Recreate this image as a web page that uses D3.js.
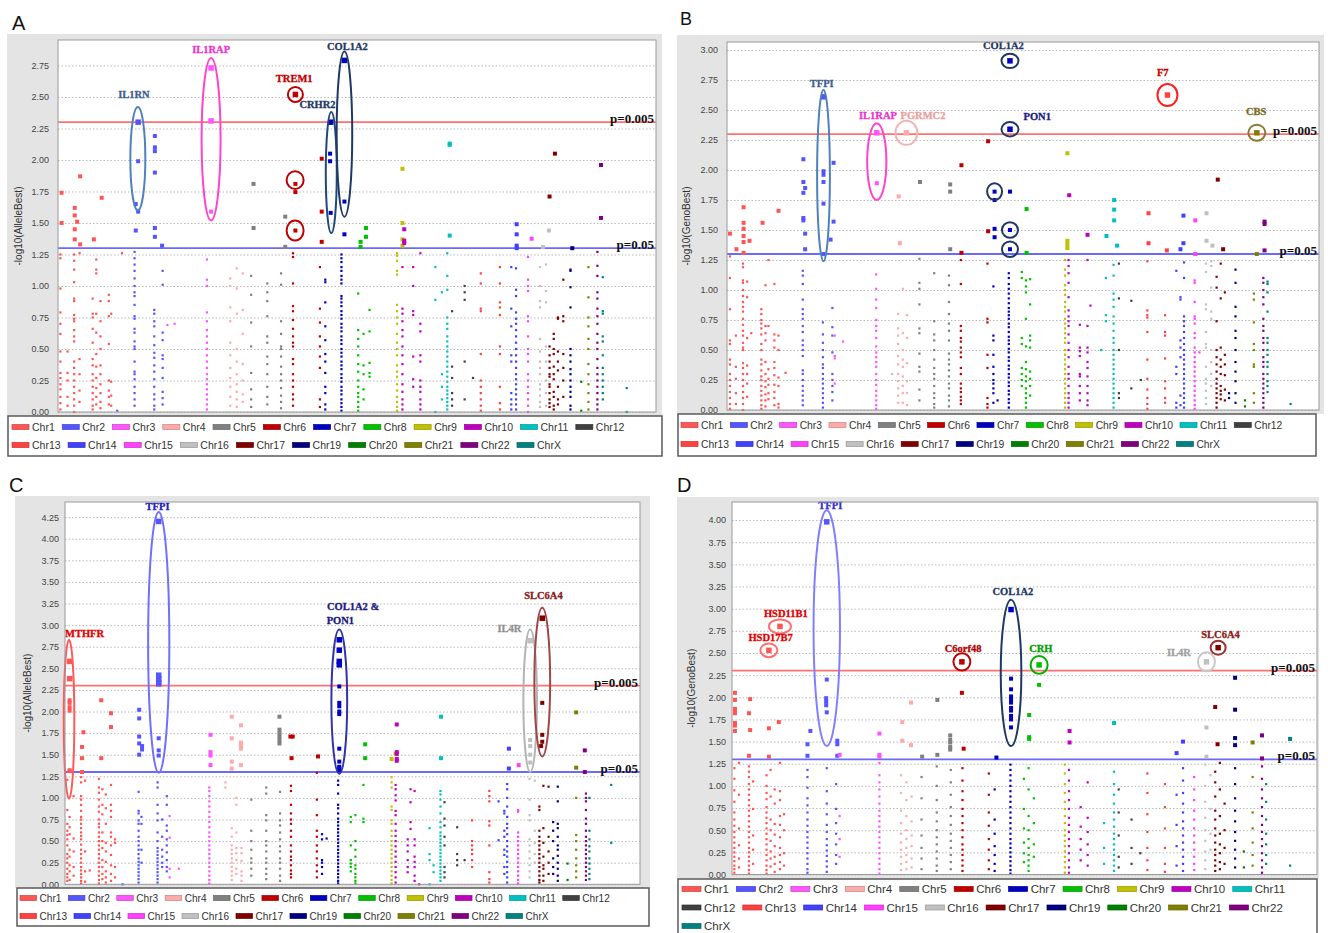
<!DOCTYPE html>
<html>
<head>
<meta charset="utf-8">
<script src="https://cdn.jsdelivr.net/npm/d3@7"></script>
<style>
  body { margin: 0; background: #fff; }
  svg { display: block; font-family: Arial, "Liberation Sans", sans-serif; }
</style>
</head>
<body>
<svg id="fig" width="1328" height="933"></svg>
<script>
// chromosomes shown in the legend (no Chr18), 23 = X
const chromosomes = [1,2,3,4,5,6,7,8,9,10,11,12,13,14,15,16,17,19,20,21,22,23];
const chrNames = chromosomes.map(c => c === 23 ? "ChrX" : "Chr" + c);
const chrColors = ["#ff5555","#5555ff","#ff55ff","#ffaaaa","#808080","#c00000","#0000c0","#00c000",
  "#c0c000","#c000c0","#00c0c0","#404040","#ff4040","#4040ff","#ff40ff","#c0c0c0","#800000",
  "#000080","#008000","#808000","#800080","#008080"];

// [chromosome, genome position (0-100), -log10 p values] for SNPs below p=0.05
const colsA = [
[1,0.4,[1.25,1.22,0.98,0.79,0.70,0.62,0.48,0.40,0.31,0.27,0.22,0.18,0.12,0.07,0.02]],
[1,1.6,[0.48,0.31,0.25,0.12,0.05]],
[1,2.7,[1.25,1.20,1.13,1.03,0.90,0.88,0.77,0.74,0.72,0.65,0.60,0.56,0.40,0.35,0.30,0.25,0.20,0.15,0.10,0.05,0.00]],
[1,3.6,[1.26,0.42,0.30,0.17,0.08]],
[1,5.8,[0.90,0.78,0.75,0.66,0.55,0.42,0.37,0.30,0.25,0.20,0.15,0.10,0.05,0.02]],
[1,6.4,[1.21,1.13,1.10,0.78,0.63,0.46,0.36,0.27,0.19,0.12,0.06]],
[1,7.1,[0.88,0.72,0.60,0.50,0.37,0.30,0.22,0.15,0.08,0.03]],
[1,8.5,[0.93,0.88,0.76,0.54,0.25,0.17,0.12,0.06]],
[1,8.9,[0.78,0.24,0.13,0.05]],
[2,9.9,[0.01]],
[1,10.7,[1.26]],
[2,12.8,[1.27,1.22,1.17,1.12,1.06,1.00,0.95,0.92,0.85,0.76,0.74,0.66,0.63,0.56,0.52,0.50,0.40,0.32,0.30,0.26,0.20,0.15,0.10,0.05]],
[2,16.1,[0.81,0.78,0.72,0.68,0.60,0.53,0.47,0.43,0.37,0.32,0.26,0.20,0.14,0.10,0.05,0.02]],
[2,17.5,[1.12,1.01,0.63,0.57,0.45,0.42,0.35,0.27,0.16,0.11,0.06]],
[3,18.3,[0.69]],
[3,19.5,[0.70]],
[3,24.9,[1.21,1.05,1.00,0.79,0.72,0.65,0.60,0.55,0.50,0.45,0.40,0.35,0.30,0.26,0.22,0.18,0.14,0.10,0.06,0.02]],
[4,28.8,[1.06,1.00,0.83,0.72,0.55,0.45,0.35,0.27,0.20,0.12,0.05]],
[4,29.9,[1.14,0.98,0.78,0.50,0.40,0.30,0.22,0.16,0.10,0.04]],
[4,30.9,[1.10,0.81,0.62,0.38,0.25,0.14,0.08]],
[5,32.3,[1.08,0.93,0.71,0.52,0.31,0.18,0.10,0.04]],
[5,35.0,[1.02,0.95,0.88,0.76,0.60,0.55,0.44,0.38,0.30,0.20,0.12,0.06]],
[5,37.3,[1.10,1.01,0.72,0.62,0.52,0.50,0.44,0.36,0.30,0.25,0.19,0.13,0.08,0.03]],
[6,39.3,[1.26,1.23,1.02,0.84,0.80,0.73,0.66,0.60,0.55,0.52,0.42,0.38,0.30,0.25,0.20,0.14,0.10,0.05]],
[6,43.8,[1.15,0.82,0.71,0.60,0.52,0.44,0.35,0.10,0.04]],
[7,44.7,[1.05,1.03,0.87,0.68,0.57,0.46,0.40,0.31,0.20,0.15,0.06,0.02]],
[7,47.4,[1.25,1.22,1.19,1.15,1.12,1.08,1.05,1.02,0.92,0.90,0.87,0.84,0.80,0.77,0.74,0.70,0.67,0.64,0.60,0.57,0.54,0.50,0.47,0.44,0.40,0.37,0.34,0.30,0.27,0.24,0.20,0.17,0.14,0.10,0.07,0.04,0.01]],
[8,50.2,[0.94,0.65,0.58,0.52,0.45,0.38,0.32,0.25,0.20,0.15,0.12,0.08,0.04,0.01]],
[8,51.1,[0.62,0.37,0.30,0.18,0.10]],
[8,52.1,[0.81,0.64,0.39,0.31,0.28]],
[9,56.7,[1.26,1.24,1.20,1.12,1.09,0.85,0.80,0.75,0.70,0.62,0.55,0.50,0.45,0.37,0.32,0.28,0.22,0.17,0.12,0.08,0.04,0.01]],
[10,57.6,[1.15,0.82,0.78,0.72,0.65,0.60,0.52,0.45,0.38,0.30,0.22,0.16,0.10,0.06,0.02]],
[10,59.4,[1.15,1.00,0.80,0.77,0.44,0.26,0.20]],
[10,60.6,[1.26,0.70,0.64,0.45,0.40,0.25,0.20,0.16,0.10,0.06,0.02]],
[11,63.1,[1.15,0.89,0.00]],
[11,64.2,[0.95,0.30,0.20,0.10]],
[11,65.1,[1.26,1.08,0.97,0.75,0.70,0.66,0.60,0.56,0.52,0.48,0.44,0.40,0.36,0.32,0.28,0.24,0.20,0.17,0.14,0.11,0.08,0.05,0.02]],
[12,65.9,[0.80,0.36,0.27,0.15,0.10,0.05]],
[12,68.0,[1.00,0.95,0.89,0.40,0.10]],
[12,69.4,[0.27]],
[13,70.7,[1.10,1.02,0.82,0.80,0.46,0.25,0.20,0.15,0.10,0.05,0.01]],
[13,73.9,[1.15,1.02,0.87,0.83,0.77,0.52,0.46,0.20,0.07,0.02]],
[14,75.8,[1.15,0.82,0.68,0.45,0.40,0.15,0.10,0.06,0.02]],
[14,76.6,[1.14,0.97,0.92,0.79,0.74,0.70,0.65,0.60,0.55,0.50,0.45,0.40,0.35,0.30,0.26,0.22,0.18,0.14,0.10,0.06,0.02]],
[15,78.6,[1.23,1.05,1.00,0.96,0.76,0.72,0.60,0.50,0.46,0.40,0.30,0.25,0.20,0.15,0.10,0.05,0.00]],
[16,80.6,[1.15,1.00,0.88,0.83,0.58,0.48,0.40,0.35,0.30,0.22,0.18,0.13,0.08,0.04]],
[16,81.6,[1.17,0.96,0.87,0.52,0.40,0.25,0.15,0.05]],
[17,82.2,[0.52,0.45,0.40,0.35,0.30,0.28,0.22,0.20,0.15,0.10,0.07,0.04]],
[17,82.9,[0.62,0.58,0.50,0.46,0.36,0.30,0.26,0.16,0.12,0.05,0.02]],
[17,83.6,[0.75,0.74,0.48,0.40,0.33,0.20,0.10,0.06]],
[17,84.5,[1.05,0.76,0.72,0.46,0.35,0.25,0.12]],
[19,85.7,[1.13,1.12,0.99,0.83,0.50,0.45,0.40,0.34,0.30,0.25,0.20,0.16,0.12,0.05,0.02]],
[20,87.5,[0.24,0.01]],
[21,88.7,[1.15,0.91,0.75,0.68,0.58,0.50,0.38,0.30,0.22,0.15,0.08,0.02]],
[22,90.2,[1.27,1.16,1.08,0.95,0.90,0.82,0.76,0.70,0.62,0.55,0.50,0.42,0.35,0.30,0.25,0.20,0.15,0.10,0.06,0.02]],
[23,91.1,[1.07,0.80,0.78,0.60,0.56,0.45,0.35,0.30,0.25,0.20,0.15,0.10]],
[23,95.1,[0.19,0.00]]
];

// [chromosome, position, -log10 p] for SNPs with p <= 0.05
const hitsA = [
[1,0.6,1.74],[1,0.6,1.50],[1,2.8,1.62],[1,2.8,1.56],[1,3.2,1.51],[1,2.8,1.45],[1,2.8,1.37],[1,3.7,1.33],[1,3.7,1.87],
[1,6.0,1.37],[1,7.3,1.70],
[2,13.4,2.30],[2,13.4,1.99],[2,13.0,1.65],[2,13.4,1.59],[2,13.0,1.44],
[2,16.2,2.19],[2,16.2,2.10],[2,16.2,2.07],[2,16.2,1.90],[2,16.2,1.46],[2,16.2,1.39],[2,17.4,1.32],
[3,25.6,2.73],[3,25.6,2.31],[3,25.6,1.59],
[5,32.7,1.81],[5,32.7,1.46],[5,38.0,1.55],[5,38.0,1.31],
[6,39.7,2.52],[6,39.7,1.81],[6,39.7,1.745],[6,39.7,1.44],
[6,44.1,2.01],[6,44.1,1.59],[6,44.1,1.35],
[7,45.6,2.30],[7,45.5,2.05],[7,45.5,1.99],[7,45.6,1.58],
[7,47.9,2.79],[7,47.9,1.67],[7,47.9,1.41],
[8,50.6,1.35],[8,50.6,1.31],[8,51.5,1.46],[8,51.5,1.39],
[9,57.6,1.93],[9,57.6,1.50],[9,57.6,1.37],[9,57.6,1.32],
[10,57.9,1.45],[10,57.9,1.36],[10,57.9,1.34],
[11,65.5,2.13],[11,65.5,2.12],[11,65.5,1.40],
[14,76.7,1.49],[14,76.7,1.41],[14,76.7,1.32],[14,76.7,1.30],
[15,79.2,1.375],[16,82.1,1.44],[16,81.1,1.31],
[17,83.1,2.05],[17,82.2,1.71],[19,86.0,1.30],
[22,90.8,1.96],[22,90.8,1.54]
];

const colsB = [
[1,0.5,[1.28,1.10,0.84,0.58,0.55,0.42,0.38,0.30,0.25,0.20,0.15,0.10,0.05,0.01]],
[1,1.5,[0.62,0.36,0.26,0.14,0.05]],
[1,2.7,[1.22,1.19,1.08,1.06,1.00,0.95,0.90,0.86,0.82,0.76,0.71,0.66,0.62,0.56,0.52,0.50,0.39,0.35,0.30,0.25,0.20,0.15,0.10,0.05,0.00]],
[1,3.4,[1.07,0.94,0.60,0.37,0.30,0.22,0.11]],
[1,4.1,[0.64]],
[1,5.8,[0.84,0.80,0.75,0.72,0.68,0.63,0.55,0.50,0.42,0.38,0.33,0.28,0.25,0.20,0.16,0.12,0.08,0.04,0.01]],
[1,6.5,[1.04,0.70,0.64,0.58,0.40,0.30,0.24,0.19,0.13,0.08,0.03]],
[1,7.0,[1.25,0.70,0.34,0.26,0.21,0.14,0.09]],
[1,8.0,[1.05,0.63,0.58,0.52,0.40,0.35,0.29,0.21,0.15,0.10,0.04]],
[1,8.7,[0.62,0.50,0.27,0.20,0.05,0.02]],
[1,9.9,[0.31]],
[2,12.8,[1.16,1.12,1.05,0.92,0.84,0.80,0.76,0.70,0.65,0.58,0.54,0.50,0.45,0.33,0.30,0.25,0.20,0.16,0.12,0.08,0.04]],
[2,16.2,[0.73,0.63,0.56,0.50,0.44,0.38,0.35,0.30,0.26,0.22,0.18,0.14,0.10,0.06,0.02]],
[2,17.8,[0.85,0.69,0.62,0.48,0.30,0.25,0.20,0.15,0.08]],
[3,18.2,[0.62,0.45,0.43,0.22]],
[3,19.6,[0.57]],
[3,25.2,[1.13,1.01,0.92,0.85,0.75,0.70,0.66,0.60,0.53,0.48,0.44,0.40,0.36,0.30,0.25,0.21,0.16,0.12,0.08,0.04,0.01]],
[4,27.9,[0.30]],
[4,28.9,[0.80,0.68,0.62,0.55,0.45,0.38,0.30,0.24,0.18,0.12,0.06]],
[4,29.7,[1.01,0.64,0.50,0.42,0.36,0.28,0.20,0.14,0.06]],
[4,30.4,[0.79,0.60,0.39,0.24,0.14,0.04]],
[5,32.5,[1.26,1.06,1.01,0.88,0.68,0.64,0.47,0.36,0.32,0.17,0.08]],
[5,35.0,[1.14,0.74,0.63,0.58,0.50,0.42,0.35,0.30,0.26,0.20,0.14,0.10,0.05,0.02]],
[5,37.5,[1.12,1.04,0.90,0.80,0.72,0.66,0.58,0.47,0.42,0.38,0.33,0.28,0.22,0.18,0.12,0.08,0.03]],
[6,39.5,[1.25,1.05,0.70,0.66,0.60,0.57,0.52,0.48,0.44,0.35,0.30,0.22,0.18,0.15,0.11,0.08,0.05]],
[6,44.0,[1.22,0.76,0.73,0.46,0.35,0.10,0.05,0.02]],
[7,45.0,[1.03,0.62,0.58,0.46,0.36,0.30,0.25,0.22,0.18,0.14,0.06]],
[7,45.7,[0.08]],
[7,47.6,[1.14,1.10,1.05,1.01,0.97,0.93,0.89,0.85,0.82,0.79,0.76,0.72,0.69,0.65,0.61,0.58,0.55,0.51,0.48,0.44,0.41,0.37,0.34,0.30,0.27,0.23,0.20,0.16,0.13,0.09,0.06,0.02]],
[8,49.8,[1.15,1.10,0.60,0.55,0.35,0.30,0.25,0.20]],
[8,50.5,[1.08,1.03,0.98,0.76,0.53,0.40,0.34,0.28,0.24,0.18,0.14,0.10,0.06,0.02]],
[8,51.2,[1.09,0.88,0.62,0.58,0.52,0.32,0.26,0.20,0.12]],
[9,57.1,[1.25,1.17,1.12,1.04,1.00,0.96,0.90,0.86,0.82,0.76,0.72,0.68,0.64,0.60,0.56,0.50,0.46,0.42,0.38,0.34,0.30,0.26,0.22,0.18,0.14,0.10,0.06,0.02]],
[10,57.7,[1.25,1.20,1.14,1.06,0.94,0.83,0.78,0.74,0.70,0.63,0.56,0.50,0.44,0.36,0.30,0.26,0.20,0.14,0.10,0.06,0.02]],
[10,59.6,[0.71,0.52,0.49,0.45,0.30,0.28,0.20,0.14,0.08]],
[10,60.9,[1.25,0.70,0.52,0.48,0.40,0.35,0.28,0.20,0.14,0.08,0.04]],
[10,61.4,[0.87]],
[11,63.2,[0.50]],
[11,64.0,[1.10,0.79,0.74]],
[11,65.3,[1.21,1.12,0.97,0.92,0.86,0.78,0.72,0.66,0.60,0.56,0.50,0.46,0.42,0.38,0.34,0.30,0.26,0.22,0.18,0.14,0.10,0.06,0.02]],
[12,66.2,[1.22,0.93,0.50,0.14,0.10]],
[12,68.3,[0.91,0.18]],
[12,69.9,[0.25]],
[13,71.0,[1.24,0.83,0.79,0.77,0.65,0.42,0.26,0.17,0.10,0.05,0.01]],
[13,74.0,[0.79,0.65,0.62,0.43,0.24,0.18,0.10,0.06]],
[14,75.9,[1.16,0.36,0.30,0.06,0.02]],
[14,76.6,[0.94,0.92,0.58,0.52,0.44,0.12,0.04]],
[14,77.2,[1.23,1.10,0.78,0.74,0.70,0.65,0.60,0.55,0.50,0.46,0.42,0.38,0.34,0.30,0.26,0.22,0.18,0.14,0.10,0.06,0.02]],
[15,79.0,[1.08,1.06,0.90,0.78,0.76,0.72,0.64,0.60,0.52,0.48,0.44,0.40,0.36,0.32,0.28,0.24,0.20,0.16,0.12,0.08,0.04,0.01]],
[15,79.8,[0.48]],
[16,80.9,[1.22,1.15,0.88,0.84,0.65,0.55,0.52,0.36,0.26,0.22,0.16,0.10,0.05]],
[16,81.8,[1.24,1.20,1.02,0.82,0.76,0.50,0.40,0.30,0.20]],
[17,82.7,[1.11,1.02,0.74,0.50,0.44,0.38,0.32,0.26,0.22,0.18,0.14,0.10,0.06,0.02]],
[17,83.4,[1.22,0.93,0.52,0.42,0.36,0.30,0.20,0.16,0.13,0.09]],
[17,84.1,[0.98,0.46,0.38,0.29,0.17,0.08]],
[19,84.8,[0.14,0.10]],
[19,85.9,[1.17,1.06,0.86,0.78,0.66,0.60,0.50,0.40,0.32,0.24,0.14,0.06]],
[20,87.5,[0.08,0.03]],
[21,89.0,[0.97,0.92,0.73,0.55,0.50,0.38,0.36,0.14,0.06]],
[22,90.6,[1.10,1.06,1.00,0.94,0.88,0.76,0.70,0.66,0.60,0.56,0.50,0.44,0.40,0.36,0.30,0.26,0.22,0.18,0.14,0.10,0.06,0.02]],
[23,91.3,[1.07,1.05,0.98,0.82,0.60,0.56,0.50,0.46,0.40,0.36,0.30,0.24,0.20,0.15]],
[23,95.2,[0.05]]
];

const hitsB = [
[1,0.5,1.47],[1,1.6,1.34],[1,2.8,1.69],[1,2.8,1.56],[1,2.8,1.51],[1,2.8,1.45],[1,2.8,1.40],[1,2.8,1.31],[1,3.8,1.41],
[1,6.0,1.56],[1,8.7,1.66],
[2,12.9,2.09],[2,12.9,1.90],[2,13.2,1.85],[2,12.9,1.81],[2,12.9,1.60],[2,12.9,1.58],[2,13.2,1.47],[2,13.2,1.34],
[2,16.3,2.61],[2,16.3,1.99],[2,16.3,1.96],[2,16.3,1.90],[2,16.3,1.72],[2,16.3,1.30],
[2,18.0,2.06],[2,18.0,1.57],[2,17.5,1.42],
[3,25.3,2.31],[3,25.3,1.89],
[4,30.3,2.31],[4,29.0,1.78],[4,29.2,1.39],
[5,32.6,1.90],[5,37.7,1.88],[5,37.7,1.82],[5,37.7,1.34],
[6,39.6,2.04],[6,39.6,1.31],[6,44.1,2.24],[6,44.1,1.49],
[7,45.2,1.82],[7,45.2,1.75],[7,45.2,1.51],[7,45.2,1.44],
[7,47.8,2.91],[7,47.8,2.34],[7,47.8,1.82],[7,47.8,1.50],[7,47.8,1.34],
[8,50.6,1.675],[8,50.6,1.31],
[9,57.5,2.14],[9,57.5,1.41],[9,57.5,1.38],[9,57.5,1.35],
[10,57.8,1.79],[10,60.9,1.46],
[11,64.1,1.45],[11,65.4,1.75],[11,65.4,1.67],[11,65.4,1.58],[11,65.9,1.37],
[13,71.2,1.64],[13,71.2,1.39],[13,74.3,1.33],[13,74.4,2.625],
[14,76.6,1.34],[14,77.1,1.39],[14,77.1,1.62],
[15,79.1,1.58],[15,79.1,1.30],
[16,81.0,1.64],[16,81.0,1.41],[16,82.0,1.37],
[17,82.9,1.92],[17,83.8,1.34],
[21,89.5,2.31],[21,89.5,1.30],
[22,90.8,1.57],[22,90.8,1.55],[22,90.8,1.33]
];

const colsC = [
[1,0.4,[1.21,0.86,0.70,0.62,0.57,0.52,0.45,0.35,0.30,0.25,0.18,0.12,0.08,0.04]],
[1,0.8,[0.78,0.66,0.58,0.40,0.32,0.22,0.15,0.05]],
[1,1.5,[1.02,0.53,0.38,0.20,0.10]],
[1,2.8,[1.24,1.18,1.02,0.98,0.92,0.85,0.78,0.75,0.70,0.65,0.60,0.56,0.52,0.46,0.40,0.35,0.30,0.25,0.20,0.16,0.12,0.08,0.04,0.01]],
[1,3.5,[1.20,0.38,0.15,0.03]],
[1,4.3,[0.16]],
[1,5.9,[1.22,1.12,1.06,0.98,0.90,0.84,0.75,0.70,0.66,0.60,0.55,0.50,0.45,0.40,0.35,0.30,0.25,0.20,0.15,0.10,0.05,0.01]],
[1,6.5,[1.10,0.92,0.81,0.60,0.50,0.42,0.28,0.20,0.12,0.06]],
[1,7.1,[1.04,0.88,0.70,0.48,0.38,0.26,0.15,0.08,0.02]],
[1,8.0,[1.15,0.92,0.85,0.78,0.60,0.55,0.45,0.34,0.22,0.12,0.04]],
[1,8.7,[0.52,0.48,0.20,0.08]],
[2,10.0,[0.00]],
[2,12.8,[1.07,0.85,0.82,0.74,0.70,0.62,0.55,0.50,0.45,0.40,0.35,0.30,0.26,0.22,0.18,0.14,0.10,0.06,0.02]],
[2,13.3,[0.78,0.70,0.40,0.25]],
[2,16.1,[1.18,1.12,0.92,0.82,0.74,0.60,0.50,0.42,0.38,0.34,0.30,0.26,0.22,0.18,0.14,0.10,0.06,0.02]],
[2,16.9,[0.75,0.55,0.40,0.32,0.25,0.20]],
[2,17.7,[1.02,0.92,0.68,0.62,0.52,0.45,0.37,0.28,0.20,0.15]],
[3,18.2,[0.79,0.54,0.18,0.08]],
[3,19.8,[0.18]],
[3,25.1,[1.12,1.08,1.02,0.96,0.90,0.84,0.78,0.72,0.66,0.60,0.55,0.50,0.45,0.40,0.35,0.30,0.25,0.20,0.15,0.10,0.05,0.01]],
[4,27.9,[1.18,1.12]],
[4,29.0,[0.65,0.55,0.45,0.40,0.35,0.30,0.25,0.20,0.15,0.10,0.05]],
[4,29.8,[1.00,0.92,0.60,0.42,0.36,0.28,0.18,0.12]],
[4,30.7,[0.42,0.36,0.27,0.15,0.10,0.04]],
[5,32.4,[0.98,0.62,0.50,0.40,0.30,0.25,0.18,0.10]],
[5,35.0,[1.12,1.05,0.80,0.74,0.62,0.50,0.45,0.38,0.30,0.25,0.18,0.12,0.06]],
[5,37.4,[1.07,0.82,0.74,0.68,0.60,0.52,0.44,0.38,0.30,0.25,0.18,0.10,0.04]],
[6,39.3,[1.14,1.08,0.92,0.82,0.75,0.70,0.62,0.55,0.45,0.38,0.32,0.28,0.22,0.16,0.12,0.08]],
[6,43.8,[1.29,0.98,0.80,0.62,0.55,0.45,0.38,0.30,0.22,0.15,0.08]],
[7,44.7,[0.58,0.52,0.28,0.25,0.20,0.12]],
[7,45.5,[0.53]],
[7,47.5,[1.20,1.15,1.05,0.92,0.88,0.82,0.76,0.72,0.68,0.64,0.60,0.56,0.52,0.48,0.44,0.40,0.36,0.32,0.28,0.24,0.20,0.16,0.12,0.08,0.04,0.01]],
[8,49.7,[0.78,0.72,0.45,0.28,0.24,0.20,0.15]],
[8,50.5,[0.80,0.50,0.40,0.32,0.22,0.18,0.12,0.08,0.04,0.01]],
[8,51.9,[1.15,0.76,0.72]],
[9,56.8,[1.24,1.18,1.12,0.90,0.86,0.74,0.70,0.62,0.56,0.50,0.45,0.40,0.35,0.30,0.25,0.20,0.15,0.10,0.05,0.01]],
[10,57.5,[1.15,1.10,1.03,0.97,0.85,0.80,0.70,0.62,0.56,0.50,0.44,0.38,0.32,0.26,0.20,0.14,0.08,0.02]],
[10,59.6,[0.52,0.45,0.38,0.28,0.20,0.14]],
[10,60.1,[1.10,0.95,0.72,0.64]],
[10,60.8,[1.08,0.52,0.45,0.32,0.26,0.20,0.10,0.04]],
[10,61.6,[0.00]],
[11,63.4,[0.65,0.35,0.28,0.00]],
[11,64.1,[0.22,0.14]],
[11,65.3,[1.08,1.04,0.98,0.90,0.82,0.72,0.66,0.60,0.56,0.52,0.48,0.44,0.40,0.36,0.32,0.28,0.24,0.20,0.16,0.12,0.08,0.04]],
[12,66.0,[0.95,0.76,0.68,0.55,0.45,0.20,0.14,0.08]],
[12,68.2,[0.66,0.35,0.28,0.22]],
[12,69.5,[0.28]],
[13,70.8,[0.74,0.50,0.45,0.40,0.35,0.28,0.20]],
[13,73.8,[1.08,1.02,0.96,0.73,0.68,0.45,0.14,0.06,0.02]],
[14,75.4,[0.96,0.51]],
[14,76.4,[0.85,0.82,0.62,0.55,0.40,0.34,0.20,0.12]],
[14,76.9,[1.16,1.10,1.00,0.90,0.78,0.70,0.65,0.58,0.50,0.44,0.38,0.32,0.26,0.20,0.14,0.08,0.02]],
[15,78.8,[0.86,0.84,0.60,0.55,0.50,0.45,0.40,0.35,0.30,0.25,0.20,0.15,0.10,0.05,0.01]],
[16,80.8,[1.22,0.98,0.80,0.74,0.52,0.45,0.38,0.30,0.22,0.15,0.08]],
[16,81.7,[1.20,0.62,0.48,0.35,0.25]],
[17,82.5,[0.90,0.86,0.62,0.55,0.50,0.45,0.40,0.35,0.30,0.25,0.20,0.15,0.10,0.05,0.02]],
[17,83.2,[1.14,0.65,0.48,0.32,0.22,0.18,0.10,0.04]],
[17,84.1,[1.13,0.55,0.38,0.25,0.12]],
[19,84.9,[0.72,0.62,0.50,0.30,0.20,0.12]],
[19,85.7,[1.13,0.96,0.70,0.65,0.55,0.45,0.40,0.33,0.25,0.18,0.10,0.04]],
[20,87.4,[0.24,0.05]],
[21,88.9,[1.00,0.57,0.50,0.40,0.30,0.22,0.15,0.08]],
[22,90.6,[1.05,1.00,0.96,0.86,0.76,0.70,0.62,0.55,0.50,0.45,0.40,0.35,0.30,0.25,0.20,0.15,0.10,0.05]],
[23,91.2,[1.00,0.62,0.52,0.44,0.38,0.30,0.24,0.18,0.12,0.06]],
[23,95.0,[1.15,0.48]]
];

const hitsC = [
[1,0.8,2.58],[1,0.8,2.38],[1,0.8,2.13],[1,0.8,2.10],[1,0.8,2.05],[1,0.8,2.01],[1,0.8,1.32],[1,0.8,1.31],
[1,3.2,1.76],[1,2.95,1.59],[1,2.95,1.46],[1,2.95,1.30],
[1,6.3,2.13],[1,6.3,1.46],[1,8.0,1.98],[1,8.0,1.82],
[2,16.3,4.20],[2,16.3,2.42],[2,16.3,2.38],[2,16.3,2.34],[2,16.3,2.32],[2,16.3,1.69],[2,16.3,1.55],[2,16.3,1.49],
[2,12.9,2.02],[2,12.9,1.92],[2,12.9,1.71],[2,12.9,1.63],[2,13.4,1.60],[2,13.4,1.56],[2,12.9,1.50],
[3,25.3,1.73],[3,25.3,1.53],[3,25.3,1.49],[3,25.3,1.38],
[4,29.0,1.94],[4,29.0,1.69],[4,29.0,1.42],[4,29.0,1.34],[4,30.6,1.84],[4,30.6,1.64],[4,30.6,1.60],[4,30.6,1.57],[4,30.6,1.38],
[5,37.3,1.94],[5,37.3,1.79],[5,37.3,1.75],[5,37.3,1.71],[5,37.3,1.67],[5,37.3,1.63],
[6,39.2,1.71],[6,39.6,1.71],[6,39.4,1.46],[6,44.0,1.48],
[7,47.7,2.83],[7,47.7,2.71],[7,47.7,2.58],[7,47.7,2.54],[7,47.7,2.29],[7,47.7,2.10],[7,47.7,2.06],[7,47.7,2.00],[7,47.7,1.97],
[7,47.7,1.57],[7,47.7,1.42],[7,47.7,1.36],[7,47.7,1.34],[7,47.7,1.32],
[8,52.2,1.62],[8,52.2,1.46],
[9,56.8,1.45],[9,57.5,1.51],
[10,57.7,1.85],[10,57.7,1.53],[10,57.7,1.51],[10,57.7,1.45],[10,57.7,1.43],
[11,65.4,1.94],[11,65.4,1.46],
[14,77.2,1.57],[14,77.2,1.34],[15,78.9,1.38],
[16,80.9,2.82],[16,80.9,1.67],[16,80.9,1.60],[16,80.9,1.50],[16,80.9,1.41],
[17,83.0,3.08],[17,83.0,2.10],[17,83.0,1.73],[17,83.0,1.65],[17,82.8,1.60],
[21,88.9,1.99],[21,88.9,1.35],
[22,90.4,1.55],[22,90.4,1.30]
];

const colsD = [
[1,0.4,[1.20,1.08,0.95,0.82,0.70,0.62,0.55,0.48,0.42,0.36,0.30,0.25,0.20,0.15,0.10,0.06,0.02]],
[1,1.2,[1.26,0.90,0.52,0.33,0.18,0.08]],
[1,2.9,[1.22,1.16,1.10,1.02,0.96,0.90,0.84,0.78,0.72,0.66,0.60,0.54,0.48,0.42,0.36,0.30,0.25,0.20,0.15,0.10,0.05,0.01]],
[1,3.6,[1.05,0.74,0.44,0.28,0.12]],
[1,5.9,[1.12,1.00,0.92,0.85,0.76,0.70,0.64,0.58,0.52,0.46,0.40,0.34,0.28,0.22,0.16,0.10,0.05,0.01]],
[1,6.6,[1.18,0.88,0.62,0.50,0.38,0.26,0.18,0.09]],
[1,7.3,[0.96,0.80,0.57,0.45,0.32,0.20,0.12,0.03]],
[1,8.2,[1.26,0.94,0.84,0.66,0.56,0.42,0.30,0.22,0.14,0.06]],
[1,8.9,[0.68,0.50,0.24,0.10]],
[2,12.9,[1.18,1.10,0.98,0.86,0.78,0.70,0.62,0.55,0.48,0.42,0.36,0.30,0.24,0.18,0.12,0.06,0.02]],
[2,16.2,[1.20,0.94,0.80,0.68,0.56,0.48,0.40,0.33,0.27,0.21,0.15,0.09,0.03]],
[2,17.8,[1.02,0.74,0.58,0.46,0.34,0.22,0.12]],
[3,18.4,[0.66,0.40,0.20]],
[3,25.2,[1.26,1.12,1.04,0.96,0.88,0.80,0.72,0.66,0.60,0.54,0.48,0.42,0.36,0.30,0.24,0.18,0.12,0.06,0.01]],
[4,28.9,[1.12,0.92,0.72,0.58,0.46,0.36,0.28,0.20,0.12,0.05]],
[4,29.8,[1.04,0.84,0.66,0.50,0.40,0.30,0.22,0.14,0.06]],
[4,30.7,[0.88,0.60,0.44,0.32,0.18,0.08]],
[5,32.4,[1.10,0.86,0.62,0.44,0.30,0.18,0.06]],
[5,35.0,[1.22,1.00,0.84,0.70,0.60,0.50,0.42,0.34,0.26,0.18,0.10,0.04]],
[5,37.4,[1.18,1.04,0.90,0.76,0.66,0.56,0.46,0.38,0.30,0.22,0.14,0.06]],
[6,39.4,[1.20,1.06,0.94,0.84,0.74,0.66,0.58,0.50,0.42,0.34,0.28,0.22,0.16,0.10,0.04]],
[6,43.9,[1.14,0.90,0.70,0.55,0.40,0.28,0.16,0.06]],
[7,44.9,[0.96,0.62,0.46,0.32,0.22,0.12,0.04]],
[7,47.6,[1.24,1.18,1.12,1.06,1.00,0.94,0.88,0.82,0.76,0.70,0.64,0.58,0.52,0.46,0.40,0.35,0.30,0.25,0.20,0.15,0.10,0.05,0.01]],
[8,49.9,[1.08,0.74,0.52,0.36,0.24,0.14]],
[8,50.7,[1.20,0.96,0.66,0.50,0.40,0.30,0.22,0.16,0.10,0.04]],
[8,51.6,[0.86,0.58,0.34,0.20]],
[9,56.9,[1.24,1.14,1.02,0.92,0.82,0.74,0.66,0.58,0.50,0.44,0.38,0.32,0.26,0.20,0.14,0.08,0.02]],
[10,57.6,[1.18,1.06,0.94,0.84,0.74,0.64,0.56,0.48,0.40,0.32,0.24,0.16,0.08,0.02]],
[10,59.6,[0.76,0.54,0.40,0.28,0.16]],
[10,60.8,[1.04,0.64,0.48,0.34,0.22,0.10]],
[11,63.6,[0.58,0.30,0.12]],
[11,65.3,[1.16,1.02,0.90,0.80,0.70,0.62,0.54,0.46,0.40,0.34,0.28,0.22,0.16,0.10,0.04]],
[12,66.1,[0.96,0.70,0.44,0.20,0.08]],
[12,68.3,[0.62,0.30,0.12]],
[12,69.8,[0.24]],
[13,71.0,[1.14,0.92,0.68,0.48,0.30,0.16,0.05]],
[13,74.0,[1.02,0.76,0.52,0.30,0.12,0.03]],
[14,76.0,[0.90,0.56,0.32,0.10]],
[14,77.1,[1.20,1.06,0.92,0.80,0.70,0.60,0.52,0.44,0.36,0.28,0.20,0.12,0.04]],
[15,79.0,[1.10,0.96,0.84,0.72,0.62,0.52,0.44,0.36,0.28,0.20,0.12,0.05]],
[16,80.9,[1.24,1.00,0.82,0.64,0.50,0.38,0.26,0.16,0.06]],
[16,81.8,[1.12,0.74,0.46,0.28]],
[17,82.6,[1.16,1.04,0.88,0.72,0.62,0.52,0.44,0.36,0.28,0.22,0.16,0.10,0.04]],
[17,83.4,[1.26,0.96,0.66,0.46,0.34,0.24,0.14,0.06]],
[17,84.2,[0.80,0.50,0.30,0.12]],
[19,86.0,[1.20,1.02,0.86,0.72,0.60,0.48,0.38,0.28,0.18,0.08]],
[20,87.5,[0.26,0.08]],
[21,89.0,[1.10,0.70,0.52,0.36,0.22,0.10]],
[22,90.6,[1.22,1.08,0.96,0.86,0.76,0.66,0.56,0.48,0.40,0.32,0.24,0.16,0.08,0.02]],
[23,91.3,[1.02,0.82,0.62,0.46,0.34,0.22,0.12]],
[23,95.4,[0.10]]
];

const hitsD = [
[1,0.5,2.05],[1,0.5,1.97],[1,0.5,1.87],[1,0.5,1.85],[1,0.5,1.82],[1,0.5,1.71],[1,0.5,1.68],[1,0.5,1.62],
[1,3.1,1.98],[1,2.9,1.82],[1,3.1,1.63],[1,2.9,1.34],
[1,6.3,2.53],[1,6.3,1.65],[1,6.3,1.33],[1,8.2,2.80],[1,8.0,1.72],
[2,13.4,1.62],[2,12.9,1.47],[2,12.9,1.34],
[2,16.2,3.98],[2,16.2,2.20],[2,16.1,1.99],[2,16.1,1.95],[2,16.1,1.91],[2,16.2,1.83],
[2,18.0,1.51],[2,18.0,1.47],[2,18.0,1.34],[3,18.4,1.35],
[3,25.2,1.59],[3,25.2,1.35],[3,25.2,1.33],
[4,30.6,1.94],[4,29.1,1.72],[4,29.1,1.51],[4,30.6,1.46],
[5,32.5,1.33],[5,35.1,1.97],[5,35.1,1.35],
[5,37.3,1.57],[5,37.3,1.52],[5,37.3,1.49],[5,37.3,1.44],[5,37.3,1.41],
[6,39.3,2.40],[6,39.3,2.05],[6,39.6,1.42],
[7,45.2,1.32],
[7,47.7,2.99],[7,47.7,2.21],[7,47.7,2.09],[7,47.7,2.01],[7,47.7,1.98],[7,47.7,1.94],[7,47.7,1.88],[7,47.7,1.85],[7,47.7,1.79],[7,47.7,1.75],[7,47.7,1.66],
[8,52.5,2.365],[8,52.5,2.14],[8,50.8,1.80],[8,50.8,1.55],[8,50.8,1.53],
[10,57.7,1.62],[10,57.7,1.49],
[11,65.3,1.71],
[14,76.0,1.37],[14,77.1,1.50],
[16,81.1,2.40],[16,81.1,1.66],[16,81.1,1.33],
[17,83.1,2.56],[17,82.6,1.89],[17,83.0,1.47],
[19,86.0,2.22],[19,86.0,1.86],[19,86.0,1.54],[19,86.0,1.46],
[21,89.0,1.49],[22,90.6,1.57],[22,90.6,1.31],[23,95.4,1.53]
];

// highlighted genes: rings (position, top and bottom value, x radius) and their labels
const ringsA = [
  {pos:13.35, top:2.42, bot:1.60, rx:7.5, stroke:"#4f81bd"},
  {pos:25.6, top:2.81, bot:1.52, rx:9.5, stroke:"#ff44cc"},
  {pos:39.7, top:2.58, bot:2.46, rx:7.5, stroke:"#c00000"},
  {pos:39.65, top:1.91, bot:1.77, rx:8.5, stroke:"#c00000"},
  {pos:39.65, top:1.52, bot:1.36, rx:8.5, stroke:"#c00000"},
  {pos:45.7, top:2.38, bot:1.42, rx:5.5, stroke:"#1f497d"},
  {pos:47.9, top:2.86, bot:1.55, rx:7.8, stroke:"#1f3864"}
];
const tagsA = [
  {text:"IL1RN", pos:12.7, v:2.49, fill:"#3f5f8f"},
  {text:"IL1RAP", pos:25.6, v:2.85, fill:"#ee33cc"},
  {text:"TREM1", pos:39.5, v:2.62, fill:"#c00000"},
  {text:"CRHR2", pos:43.4, v:2.41, fill:"#1f3864"},
  {text:"COL1A2", pos:48.4, v:2.87, fill:"#1f3864"}
];
const ringsB = [
  {pos:16.3, top:2.67, bot:1.24, rx:6.4, stroke:"#4f81bd"},
  {pos:25.3, top:2.39, bot:1.75, rx:9.6, stroke:"#ff44cc"},
  {pos:30.3, top:2.41, bot:2.21, rx:11, stroke:"#f0b4b4"},
  {pos:47.8, top:2.97, bot:2.85, rx:8.5, stroke:"#1f3864"},
  {pos:47.8, top:2.40, bot:2.28, rx:8.5, stroke:"#1f3864"},
  {pos:45.2, top:1.89, bot:1.75, rx:7.5, stroke:"#1f3864"},
  {pos:47.8, top:1.565, bot:1.435, rx:8, stroke:"#1f3864"},
  {pos:47.8, top:1.405, bot:1.275, rx:8, stroke:"#1f3864"},
  {pos:74.4, top:2.717, bot:2.533, rx:10, stroke:"#ff2020"},
  {pos:89.5, top:2.377, bot:2.243, rx:8.5, stroke:"#8c7a2e"}
];
const tagsB = [
  {text:"TFPI", pos:16.0, v:2.69, fill:"#3f5f8f"},
  {text:"IL1RAP", pos:25.5, v:2.425, fill:"#ee33cc"},
  {text:"PGRMC2", pos:33.1, v:2.425, fill:"#e8a0a0"},
  {text:"COL1A2", pos:46.7, v:3.01, fill:"#1f3864"},
  {text:"PON1", pos:52.4, v:2.42, fill:"#1a237e"},
  {text:"F7", pos:73.6, v:2.78, fill:"#d00000"},
  {text:"CBS", pos:89.4, v:2.46, fill:"#7a6a20"}
];
const ringsC = [
  {pos:0.7, top:2.83, bot:0.99, rx:5.3, stroke:"#ff5a5a"},
  {pos:16.3, top:4.31, bot:1.29, rx:10.6, stroke:"#7070ff"},
  {pos:47.7, top:2.95, bot:1.28, rx:7.9, stroke:"#3333a8"},
  {pos:80.9, top:2.95, bot:1.30, rx:6.8, stroke:"#b4b4b4"},
  {pos:83.0, top:3.20, bot:1.48, rx:7.9, stroke:"#a04848"}
];
const tagsC = [
  {text:"MTHFR", pos:0.0, v:2.86, fill:"#e00000", anchor:"start"},
  {text:"TFPI", pos:16.1, v:4.33, fill:"#2020c0"},
  {text:"COL1A2 &", pos:50.1, v:3.17, fill:"#1a1a80"},
  {text:"PON1", pos:45.5, v:3.01, fill:"#1a1a80", anchor:"start"},
  {text:"IL4R", pos:77.3, v:2.92, fill:"#909090"},
  {text:"SLC6A4", pos:83.2, v:3.30, fill:"#8b1a1a"}
];
const ringsD = [
  {pos:6.3, top:2.607, bot:2.453, rx:8.5, stroke:"#ff7070"},
  {pos:8.2, top:2.879, bot:2.721, rx:11, stroke:"#ff7070"},
  {pos:16.2, top:4.11, bot:1.45, rx:13.2, stroke:"#8080ff"},
  {pos:39.3, top:2.498, bot:2.302, rx:8.5, stroke:"#c00000"},
  {pos:47.7, top:3.10, bot:1.45, rx:10.3, stroke:"#1f3864"},
  {pos:52.5, top:2.465, bot:2.265, rx:8.5, stroke:"#00b000"},
  {pos:81.1, top:2.507, bot:2.293, rx:8.5, stroke:"#c8c8c8"},
  {pos:83.1, top:2.639, bot:2.481, rx:7.5, stroke:"#a03030"}
];
const tagsD = [
  {text:"HSD17B7", pos:6.6, v:2.63, fill:"#e00000"},
  {text:"HSD11B1", pos:9.2, v:2.91, fill:"#e00000"},
  {text:"TFPI", pos:16.8, v:4.12, fill:"#3030d0"},
  {text:"C6orf48", pos:39.5, v:2.51, fill:"#b00000"},
  {text:"COL1A2", pos:48.0, v:3.15, fill:"#1f3864"},
  {text:"CRH", pos:52.8, v:2.51, fill:"#00a000"},
  {text:"IL4R", pos:76.4, v:2.47, fill:"#a0a0a0"},
  {text:"SLC6A4", pos:83.5, v:2.67, fill:"#8b1a1a"}
];

const thresholds = [{v:2.30, label:"p=0.005", stroke:"#ff7070"}, {v:1.30, label:"p=0.05", stroke:"#6a6aff"}];

const panels = [
  {letter:"A", lx:12, ly:30, lsize:20, bg:{x:7,y:34,w:655,h:382}, plot:{l:58,t:40,r:656,b:412},
   ymax:2.952, tickMax:2.75, tickGap:9, ylabel:"-log10(AlleleBest)", ylabX:22,
   cols:colsA, hits:hitsA, rings:ringsA, tags:tagsA,
   legend:{x:8,y:416,w:654,h:40,sx:12,y0:427,rowH:18,rows:[12,10],sw:17,font:10.5,gap:7.5}},
  {letter:"B", lx:680, ly:25, lsize:18, bg:{x:677,y:35,w:647,h:379}, plot:{l:727,t:42,r:1319,b:410},
   ymax:3.067, tickMax:3.0, tickGap:9, ylabel:"-log10(GenoBest)", ylabX:690,
   cols:colsB, hits:hitsB, rings:ringsB, tags:tagsB,
   legend:{x:678,y:414,w:638,h:42,sx:681,y0:425,rowH:19,rows:[12,10],sw:17,font:10.3,gap:7}},
  {letter:"C", lx:9, ly:492, lsize:20, bg:{x:15,y:496,w:635,h:392}, plot:{l:65,t:502,r:640,b:884.3},
   ymax:4.425, tickMax:4.25, tickGap:6, ylabel:"-log10(AlleleBest)", ylabX:31,
   cols:colsC, hits:hitsC, rings:ringsC, tags:tagsC,
   legend:{x:17,y:888,w:632,h:38,sx:20,y0:898,rowH:18,rows:[12,10],sw:16.5,font:10.1,gap:7}},
  {letter:"D", lx:677, ly:492, lsize:20, bg:{x:677,y:497,w:642,h:382}, plot:{l:732,t:502,r:1317,b:874.5},
   ymax:4.204, tickMax:4.0, tickGap:6, ylabel:"-log10(GenoBest)", ylabX:695,
   cols:colsD, hits:hitsD, rings:ringsD, tags:tagsD,
   legend:{x:678,y:879,w:639,h:56,sx:682,y0:889,rowH:18.5,rows:[11,10,1],sw:19,font:11.5,gap:7.5}}
];

const svg = d3.select("#fig");
const color = d3.scaleOrdinal().domain(chromosomes).range(chrColors);
const serif = "'Liberation Serif','Times New Roman',serif";

function drawPanel(P) {
  const g = svg.append("g");
  const x = d3.scaleLinear().domain([0, 100]).range([P.plot.l, P.plot.r]);
  const y = d3.scaleLinear().domain([0, P.ymax]).range([P.plot.b, P.plot.t]);
  const w = P.plot.r - P.plot.l;

  g.append("rect").attr("x", P.bg.x).attr("y", P.bg.y).attr("width", P.bg.w).attr("height", P.bg.h)
    .attr("fill", "#e4e4e4");
  g.append("rect").attr("x", P.plot.l).attr("y", P.plot.t).attr("width", w).attr("height", P.plot.b - P.plot.t)
    .attr("fill", "#fff");

  const axis = d3.axisLeft(y)
    .tickValues(d3.range(0, P.tickMax + 1e-6, 0.25))
    .tickFormat(d3.format(".2f"))
    .tickSize(-w)
    .tickPadding(P.tickGap);
  const ax = g.append("g").attr("transform", `translate(${P.plot.l},0)`).call(axis);
  ax.select(".domain").remove();
  ax.selectAll("line").attr("stroke", "#b8b8b8").attr("stroke-dasharray", "1.5,2");
  ax.selectAll("text").attr("font-size", 9).attr("fill", "#444")
    .attr("font-family", "Arial, 'Liberation Sans', sans-serif");

  // significance lines
  g.selectAll(".thr").data(thresholds).join("line")
    .attr("x1", P.plot.l).attr("x2", P.plot.r)
    .attr("y1", d => y(d.v)).attr("y2", d => y(d.v))
    .attr("stroke", d => d.stroke).attr("stroke-width", 1.8);

  // SNP points
  const low = P.cols.flatMap(([chr, pos, vals]) => vals.map(v => ({chr, pos, v})));
  const high = P.hits.map(([chr, pos, v]) => ({chr, pos, v}));
  const size = d => d.v >= 2.3 ? 5.5 : (d.v >= 1.3 ? 4 : 2.2);
  g.append("g").selectAll("rect").data(low.concat(high)).join("rect")
    .attr("x", d => x(d.pos) - size(d) / 2)
    .attr("y", d => y(d.v) - size(d) / 2)
    .attr("width", size).attr("height", size)
    .attr("fill", d => color(d.chr));

  // rings around highlighted genes
  g.append("g").selectAll("ellipse").data(P.rings).join("ellipse")
    .attr("cx", d => x(d.pos))
    .attr("cy", d => (y(d.top) + y(d.bot)) / 2)
    .attr("rx", d => d.rx)
    .attr("ry", d => (y(d.bot) - y(d.top)) / 2)
    .attr("fill", "none").attr("stroke", d => d.stroke).attr("stroke-width", 2);

  g.append("g").selectAll("text").data(P.tags).join("text")
    .attr("x", d => x(d.pos)).attr("y", d => y(d.v))
    .attr("text-anchor", d => d.anchor || "middle")
    .attr("font-family", serif).attr("font-weight", "bold").attr("font-size", 10.5)
    .attr("fill", d => d.fill).attr("stroke", d => d.fill).attr("stroke-width", 0.3)
    .text(d => d.text);

  g.append("g").selectAll("text").data(thresholds).join("text")
    .attr("x", P.plot.r - 2).attr("y", d => y(d.v) + 1)
    .attr("text-anchor", "end")
    .attr("font-family", serif).attr("font-weight", "bold").attr("font-size", 13)
    .attr("fill", "#111")
    .text(d => d.label);

  g.append("rect").attr("x", P.plot.l).attr("y", P.plot.t).attr("width", w).attr("height", P.plot.b - P.plot.t)
    .attr("fill", "none").attr("stroke", "#9a9a9a").attr("stroke-width", 1);

  g.append("text")
    .attr("transform", `translate(${P.ylabX},${(P.plot.t + P.plot.b) / 2}) rotate(-90)`)
    .attr("text-anchor", "middle").attr("font-size", 10).attr("fill", "#333")
    .text(P.ylabel);

  svg.append("text").attr("x", P.lx).attr("y", P.ly)
    .attr("font-size", P.lsize).attr("fill", "#111").text(P.letter);

  drawLegend(P.legend);
}

function drawLegend(L) {
  const g = svg.append("g");
  g.append("rect").attr("x", L.x).attr("y", L.y).attr("width", L.w).attr("height", L.h)
    .attr("fill", "#fff").attr("stroke", "#5a5a5a").attr("stroke-width", 1.5);
  let idx = 0;
  L.rows.forEach((n, r) => {
    let xx = L.sx;
    const cy = L.y0 + r * L.rowH;
    for (let k = 0; k < n; k++, idx++) {
      const c = chromosomes[idx];
      g.append("rect").attr("x", xx).attr("y", cy - 2.5).attr("width", L.sw).attr("height", 5)
        .attr("fill", color(c)).attr("stroke", d3.color(color(c)).darker(0.7)).attr("stroke-width", 0.7);
      const t = g.append("text").attr("x", xx + L.sw + 3).attr("y", cy).attr("dy", "0.35em")
        .attr("font-size", L.font).attr("fill", "#333").text(chrNames[idx]);
      xx += L.sw + 3 + t.node().getComputedTextLength() + L.gap;
    }
  });
}

panels.forEach(drawPanel);
</script>
</body>
</html>
